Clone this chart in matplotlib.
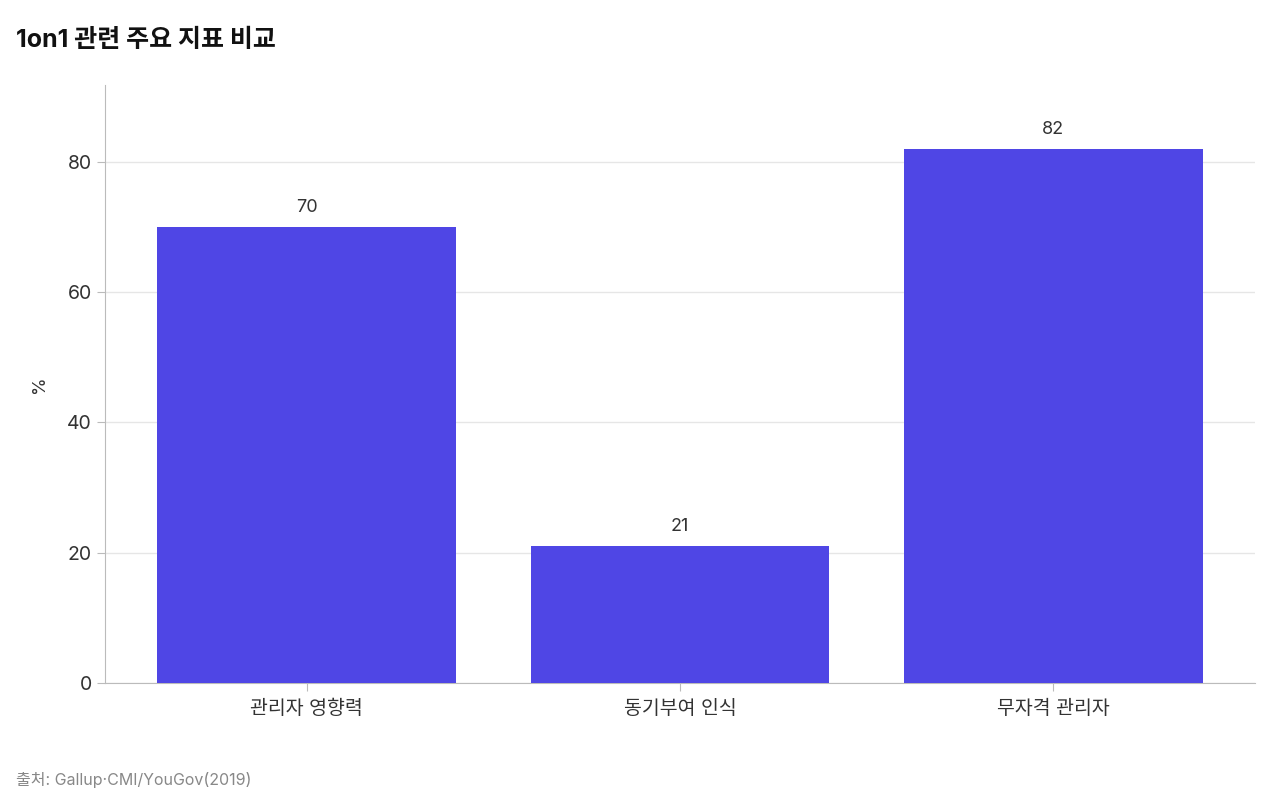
import matplotlib
matplotlib.use("Agg")
import matplotlib.pyplot as plt

plt.rcParams['font.family'] = ['Inter', 'Noto Sans CJK KR', 'DejaVu Sans']

categories = ['관리자 영향력', '동기부여 인식', '무자격 관리자']
values = [70, 21, 82]

fig = plt.figure(figsize=(12.8, 8), dpi=100)
ax = fig.add_axes([105/1280, 1-683/800, 1150/1280, 598/800])
bars = ax.bar(range(len(categories)), values, width=0.8, color='#4F46E5', zorder=3)
for i, v in enumerate(values):
    ax.annotate(f'{v}', (i, v), xytext=(0, 8), textcoords='offset points',
                ha='center', va='bottom', fontsize=13, color='#333333')
ax.set_ylim(0, 91.8)
ax.set_xticks(range(len(categories)))
ax.set_xticklabels(categories, fontsize=14, color='#333333')
ax.set_yticks([0, 20, 40, 60, 80])
ax.tick_params(axis='y', labelsize=14, colors='#333333', length=6, color='#bbbbbb')
ax.tick_params(axis='x', length=6, color='#bbbbbb', pad=6)
ax.grid(axis='y', color='#e6e6e6', linewidth=1, zorder=0)
for s in ['top', 'right']:
    ax.spines[s].set_visible(False)
for s in ['left', 'bottom']:
    ax.spines[s].set_color('#bbbbbb')
ax.set_ylabel('%', fontsize=13, color='#333333', labelpad=14)
fig.text(16/1280, 1-40/800, '1on1 관련 주요 지표 비교', fontsize=18, fontweight='bold',
         color='#111111', va='center', ha='left')
fig.text(16/1280, 1-780/800, '출처: Gallup·CMI/YouGov(2019)', fontsize=11.5,
         color='#888888', va='center', ha='left')
fig.savefig('out.png', dpi=100)
